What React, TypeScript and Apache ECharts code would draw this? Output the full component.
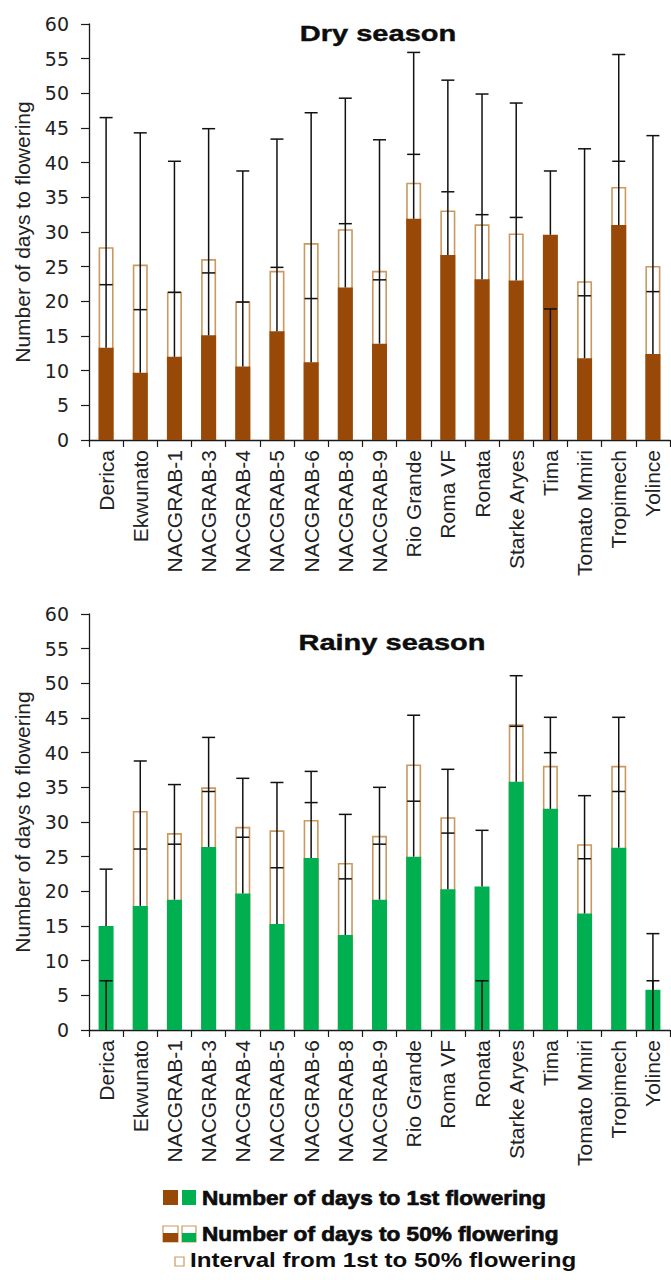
import React, { useEffect, useRef } from "react";
import * as echarts from "echarts";

// Tomato varieties on the x axis (same order in both seasons)
const varieties = [
  "Derica", "Ekwunato", "NACGRAB-1", "NACGRAB-3", "NACGRAB-4", "NACGRAB-5",
  "NACGRAB-6", "NACGRAB-8", "NACGRAB-9", "Rio Grande", "Roma VF", "Ronata",
  "Starke Aryes", "Tima", "Tomato Mmiri", "Tropimech", "Yolince",
];

// Dry season: days to 1st flowering, days to 50% flowering, and the tops of their error bars
const dryFirst = [13.3, 9.7, 12.0, 15.1, 10.6, 15.7, 11.2, 22.0, 13.9, 31.9, 26.7, 23.2, 23.0, 29.6, 11.8, 31.0, 12.4];
const dryFifty = [27.8, 25.3, 21.4, 26.1, 20.0, 24.4, 28.4, 30.4, 24.4, 37.1, 33.1, 31.1, 29.8, null, 22.9, 36.5, 25.1];
const dryFirstErr = [22.4, 18.8, 21.3, 24.1, 19.9, 24.9, 20.4, 31.2, 23.1, 41.2, 35.8, 32.5, 32.1, 18.9, 20.8, 40.2, 21.4];
const dryFiftyErr = [46.5, 44.3, 40.2, 44.9, 38.8, 43.4, 47.2, 49.3, 43.3, 55.9, 51.9, 49.9, 48.6, 38.8, 42.0, 55.6, 43.9];

// Rainy season
const rainyFirst = [15.0, 17.9, 18.8, 26.4, 19.7, 15.3, 24.8, 13.7, 18.8, 25.0, 20.3, 20.7, 35.8, 31.9, 16.8, 26.3, 5.8];
const rainyFifty = [null, 31.6, 28.4, 35.0, 29.3, 28.8, 30.3, 24.1, 28.0, 38.3, 30.7, null, 44.1, 38.1, 26.8, 38.1, null];
const rainyFirstErr = [7.1, 26.1, 26.8, 34.4, 27.8, 23.4, 32.8, 21.8, 26.8, 33.0, 28.4, 7.1, 43.8, 40.0, 24.7, 34.4, 7.1];
const rainyFiftyErr = [23.2, 38.8, 35.4, 42.2, 36.3, 35.7, 37.3, 31.1, 35.0, 45.4, 37.6, 28.8, 51.1, 45.1, 33.8, 45.1, 13.9];

const yMin = 0;
const yMax = 60;
const yStep = 5;

const BROWN = "#984807";
const GREEN = "#00b050";
const TAN = "#c9995f";
const INK = "#1a1a1a";
const FONT = "'Liberation Sans', Arial, sans-serif";

const grids = [
  { left: 89, top: 24, width: 581, height: 416 },
  { left: 89, top: 614, width: 581, height: 416 },
];

function xAxisFor(g: number) {
  return {
    type: "category",
    gridIndex: g,
    data: varieties,
    axisLine: { lineStyle: { color: INK, width: 1.3 } },
    axisTick: { show: true, length: 7, alignWithLabel: false, lineStyle: { color: INK, width: 1.2 } },
    axisLabel: { rotate: 90, interval: 0, fontSize: 21, fontFamily: FONT, color: "#222", margin: 10 },
  };
}

function yAxisFor(g: number) {
  return {
    type: "value",
    gridIndex: g,
    min: yMin,
    max: yMax,
    interval: yStep,
    name: "Number of days to flowering",
    nameLocation: "middle",
    nameRotate: 90,
    nameGap: 56,
    nameTextStyle: { fontSize: 21, fontFamily: FONT, color: "#222" },
    axisLine: { show: true, lineStyle: { color: INK, width: 1.3 } },
    axisTick: { show: true, length: 8, lineStyle: { color: INK, width: 1.2 } },
    splitLine: { show: false },
    axisLabel: { fontSize: 19, fontFamily: "'DejaVu Sans', sans-serif", color: "#222", margin: 20 },
  };
}

function seasonSeries(
  g: number,
  first: number[],
  fifty: (number | null)[],
  firstErr: number[],
  fiftyErr: number[],
  fill: string
) {
  return [
    {
      // days to 50% flowering: open bar from the axis
      type: "bar",
      xAxisIndex: g,
      yAxisIndex: g,
      barWidth: 15,
      z: 2,
      data: fifty.map((v) => (v == null ? "-" : v)),
      itemStyle: { color: "#ffffff", borderColor: TAN, borderWidth: 1.6 },
    },
    {
      // days to 1st flowering: solid bar drawn over it
      type: "bar",
      xAxisIndex: g,
      yAxisIndex: g,
      barWidth: 15,
      barGap: "-100%",
      z: 3,
      data: first,
      itemStyle: { color: fill },
    },
    {
      // error whiskers
      type: "custom",
      xAxisIndex: g,
      yAxisIndex: g,
      z: 5,
      encode: { x: 0, y: [1, 2, 3] },
      data: varieties.map((_, i) => [i, first[i], firstErr[i], fiftyErr[i], fifty[i] == null ? 1 : 0]),
      renderItem: (_params: any, api: any) => {
        const i = api.value(0);
        const base = api.coord([i, api.value(1)]);
        const fc = api.coord([i, api.value(2)]);
        const tc = api.coord([i, api.value(3)]);
        const x = base[0];
        const hw = 6.5;
        const style = { stroke: "#111", lineWidth: 1.5 };
        const children: any[] = [
          { type: "line", shape: { x1: x, y1: base[1], x2: x, y2: Math.min(fc[1], tc[1]) }, style },
          { type: "line", shape: { x1: x - hw, y1: fc[1], x2: x + hw, y2: fc[1] }, style },
          { type: "line", shape: { x1: x - hw, y1: tc[1], x2: x + hw, y2: tc[1] }, style },
        ];
        if (api.value(4) === 1) {
          // no 50% value: the 1st-flowering whisker runs up from the axis
          const zero = api.coord([i, 0]);
          children.push({ type: "line", shape: { x1: x, y1: zero[1], x2: x, y2: fc[1] }, style });
        }
        return { type: "group", children };
      },
    },
  ];
}

function boldText(text: string, x: number, y: number, size: number, sx: number, align = "left", heavy = 0) {
  return {
    type: "text",
    x,
    y,
    scaleX: sx,
    style: {
      text,
      x: 0,
      y: 0,
      align,
      verticalAlign: "middle",
      fontSize: size,
      fontWeight: "bold",
      fontFamily: FONT,
      fill: "#0d0d0d",
      stroke: heavy > 0 ? "#0d0d0d" : undefined,
      lineWidth: heavy,
    },
  };
}

function splitIcon(x: number, y: number, w: number, fill: string) {
  return [
    { type: "rect", shape: { x, y, width: w, height: 16 }, style: { fill: "#fff", stroke: TAN, lineWidth: 1.2 } },
    { type: "rect", shape: { x, y: y + 7, width: w, height: 9 }, style: { fill } },
  ];
}

export default function App() {
  const ref = useRef<HTMLDivElement>(null);

  useEffect(() => {
    if (!ref.current) return;
    const chart = echarts.init(ref.current, undefined, { renderer: "svg" });
    chart.setOption({
      animation: false,
      backgroundColor: "#ffffff",
      grid: grids,
      xAxis: [xAxisFor(0), xAxisFor(1)],
      yAxis: [yAxisFor(0), yAxisFor(1)],
      series: [
        ...seasonSeries(0, dryFirst, dryFifty, dryFirstErr, dryFiftyErr, BROWN),
        ...seasonSeries(1, rainyFirst, rainyFifty, rainyFirstErr, rainyFiftyErr, GREEN),
      ],
      graphic: [
        boldText("Dry season", 378, 33, 22, 1.32, "center", 0.4),
        boldText("Rainy season", 392, 642, 22, 1.32, "center", 0.4),
        // legend
        { type: "rect", shape: { x: 163, y: 1190, width: 15, height: 15 }, style: { fill: BROWN } },
        { type: "rect", shape: { x: 182, y: 1190, width: 14, height: 15 }, style: { fill: GREEN } },
        boldText("Number of days to 1st flowering", 202, 1198, 20, 1.13, "left", 0.7),
        ...splitIcon(163, 1226, 15, BROWN),
        ...splitIcon(182, 1226, 14, GREEN),
        boldText("Number of days to 50% flowering", 202, 1234, 20, 1.13, "left", 0.7),
        { type: "rect", shape: { x: 175, y: 1257, width: 9, height: 9 }, style: { fill: "#fff", stroke: TAN, lineWidth: 1.2 } },
        boldText("Interval from 1st to 50% flowering", 190, 1260, 21, 1.15),
      ],
    });
    return () => chart.dispose();
  }, []);

  return (
    <div
      ref={ref}
      style={{ position: "absolute", left: 0, top: 0, width: 671, height: 1280, background: "#fff" }}
    />
  );
}
